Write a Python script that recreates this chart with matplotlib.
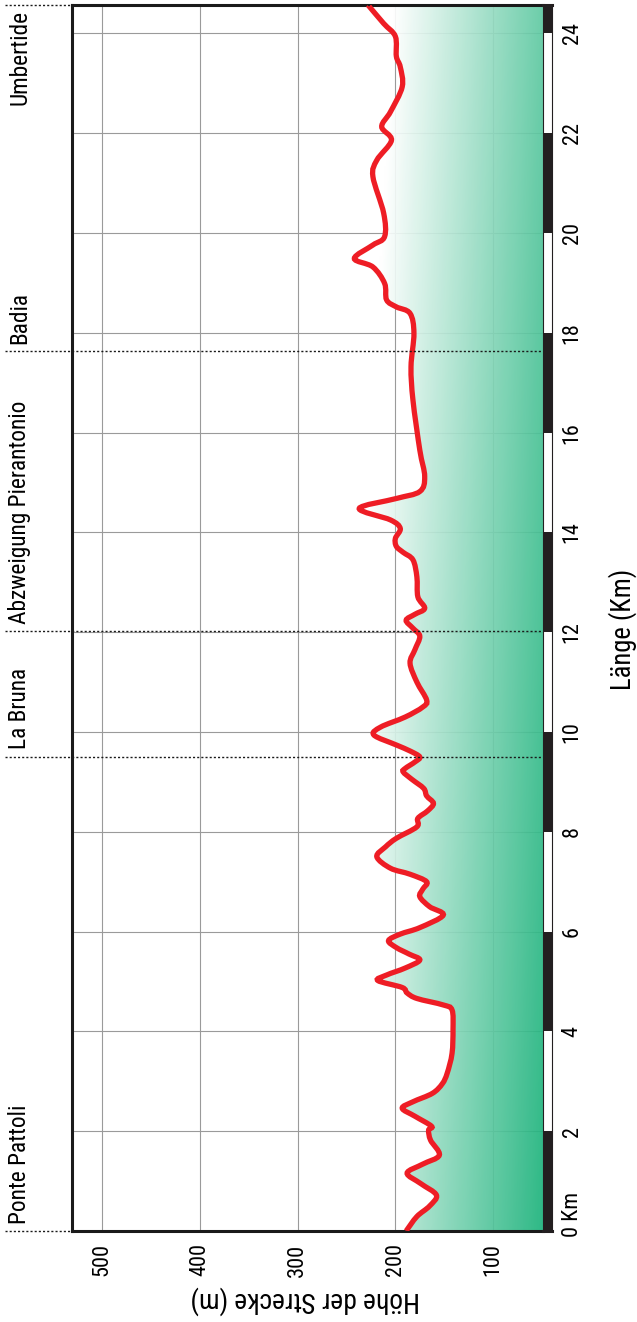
import numpy as np
import matplotlib
matplotlib.use("Agg")
import matplotlib.pyplot as plt
from matplotlib import transforms, font_manager
from matplotlib.patches import Rectangle, PathPatch
from matplotlib.path import Path

# elevation profile: distance (km) / height (m)
km = [0.00, 0.29, 0.50, 0.72, 0.95, 1.16, 1.34, 1.52, 1.82, 2.02, 2.10, 2.30,
      2.46, 2.59, 2.76, 2.95, 3.16, 3.56, 4.04, 4.43, 4.53, 4.66, 4.77, 4.88,
      5.02, 5.13, 5.27, 5.43, 5.55, 5.68, 5.82, 5.95, 6.08, 6.33, 6.50, 6.70,
      6.85, 7.00, 7.15, 7.27, 7.50, 7.70, 7.87, 8.10, 8.27, 8.42, 8.57, 8.72,
      8.87, 9.05, 9.20, 9.27, 9.40, 9.50, 9.62, 9.74, 9.94, 10.10, 10.30, 10.50,
      10.64, 11.00, 11.38, 11.65, 11.92, 12.08, 12.24, 12.36, 12.48, 12.71, 13.11, 13.45,
      13.60, 13.72, 13.88, 14.08, 14.25, 14.48, 14.68, 14.82, 15.12, 15.65, 16.65, 17.32,
      17.99, 18.39, 18.52, 18.66, 18.99, 19.32, 19.49, 19.76, 19.93, 20.40, 21.13, 21.46,
      21.86, 22.13, 22.43, 22.93, 23.33, 23.54, 23.94, 24.20, 24.57]
hoehe = [189, 178, 165, 158, 174, 188, 172, 155, 164, 166, 163, 180,
         193, 182, 162, 152, 147, 142, 141, 142, 151, 178, 188, 193,
         218, 209, 190, 175, 186, 199, 207, 195, 175, 151, 165, 175,
         172, 168, 185, 205, 219, 210, 199, 178, 177, 167, 161, 168,
         171, 183, 192, 190, 180, 175, 185, 199, 222, 215, 190, 172,
         168, 178, 185, 180, 175, 182, 189, 180, 170, 177, 178, 182,
         192, 199, 200, 195, 205, 237, 199, 175, 170, 175, 182, 184,
         181, 185, 199, 209, 211, 223, 242, 223, 211, 212, 223, 219,
         204, 214, 205, 193, 195, 199, 200, 212, 228]

orte = ['Ponte Pattoli', 'La Bruna', 'Abzweigung Pierantonio', 'Badia', 'Umbertide']
orte_km = [0.0, 9.5, 12.02, 17.63, 24.57]

hoehe_ticks = [100, 200, 300, 400, 500]
km_ticks = [2, 4, 6, 8, 10, 12, 14, 16, 18, 20, 22, 24]

xmin, xmax = 531, 48.9
kmax = 24.57


# a narrow sans if one is installed, else Roboto
def pick_font():
    wanted = ['Liberation Sans Narrow', 'Arial Narrow', 'Roboto Condensed',
              'Open Sans Condensed', 'Noto Sans Condensed', 'DejaVu Sans Condensed']
    fonts = font_manager.fontManager.ttflist
    for name in wanted:
        for f in fonts:
            if f.name == name and f.style == 'normal' and f.weight in (400, 'normal', 'regular'):
                return f.fname
    for f in fonts:
        if f.stretch in ('condensed', 'semi-condensed') and f.style == 'normal' \
                and f.weight in (400, 'normal', 'regular') and 'Mono' not in f.name \
                and 'Serif' not in f.name:
            return f.fname
    return None


FONT = pick_font()


def fp(size):
    if FONT:
        return font_manager.FontProperties(fname=FONT, size=size)
    return font_manager.FontProperties(family=['Roboto', 'DejaVu Sans'], size=size)


def smooth_path(xs, ys):
    # Catmull-Rom through the read points, handed to matplotlib as Bezier segments
    p = np.column_stack([xs, ys]).astype(float)
    pp = np.vstack([p[0], p, p[-1]])
    verts = [p[0]]
    codes = [Path.MOVETO]
    for i in range(1, len(pp) - 2):
        c1 = pp[i] + (pp[i + 1] - pp[i - 1]) / 6.0
        c2 = pp[i + 1] - (pp[i + 2] - pp[i]) / 6.0
        verts += [c1, c2, pp[i + 1]]
        codes += [Path.CURVE4] * 3
    return verts, codes


fig = plt.figure(figsize=(6.37, 13.22), dpi=100)
W, H = 637, 1322
renderer = fig.canvas.get_renderer()


def fitted(text, target_px, base=16):
    tmp = fig.text(0.5, 0.5, text, rotation=90, fontproperties=fp(base))
    bb = tmp.get_window_extent(renderer)
    tmp.remove()
    return base * target_px / bb.height


size_orte = fitted('Abzweigung Pierantonio', 224)
size_ticks = 16
size_x = fitted('Höhe der Strecke (m)', 230)
size_y = fitted('Länge (Km)', 122)

ax = fig.add_axes([72 / W, 1 - 1231 / H, (543 - 72) / W, (1231 - 5) / H])
bar = fig.add_axes([543 / W, 1 - 1231 / H, 9 / W, (1231 - 5) / H], sharey=ax)

# grid
for v in hoehe_ticks:
    ax.axvline(v, color='#9a9a9a', lw=0.8, zorder=0)
for k in km_ticks:
    ax.axhline(k, color='#9a9a9a', lw=0.8, zorder=0)

verts, codes = smooth_path(hoehe, km)

# gradient fill under the profile
fverts = verts + [(0, km[-1]), (0, km[0]), verts[0]]
fcodes = codes + [Path.LINETO, Path.LINETO, Path.CLOSEPOLY]
clip = PathPatch(Path(fverts, fcodes), facecolor='none', edgecolor='none')
ax.add_patch(clip)
ny, nx = 300, 200
s = np.linspace(0, 1, nx)[None, :]
u = np.linspace(0, 1, ny)[:, None]
t = np.clip(2.23 * (s - (0.552 + 0.134 * u)), 0, 1)
green = np.array([29, 179, 124]) / 255.0
img = np.ones((ny, nx, 4))
img[..., :3] = 1 - t[..., None] * (1 - green)
img[..., 3] = 0.92
im = ax.imshow(img, extent=[xmin, xmax, 0, kmax], origin='lower',
               aspect='auto', zorder=1, interpolation='bilinear')
im.set_clip_path(clip)

ax.add_patch(PathPatch(Path(verts, codes), facecolor='none', edgecolor='#ee1d25',
                       lw=3.8, zorder=5, capstyle='butt'))

ax.set_xlim(xmin, xmax)
ax.set_ylim(0, kmax)
ax.set_xticks(hoehe_ticks)
ax.set_xticklabels([str(v) for v in hoehe_ticks], rotation=90)
ax.tick_params(axis='x', length=0, pad=9, labelsize=size_ticks)
ax.tick_params(axis='y', left=False, labelleft=False)
for lab in ax.get_xticklabels():
    lab.set_fontproperties(fp(size_ticks))
for side in ['left', 'bottom', 'top']:
    ax.spines[side].set_linewidth(2.2)
    ax.spines[side].set_color('#1a1a1a')
ax.spines['right'].set_visible(False)

# km scale bar
seg = [0, 2, 4, 6, 8, 10, 12, 14, 16, 18, 20, 22, 24]
for i, k0 in enumerate(seg):
    k1 = min(k0 + 2, kmax)
    col = '#231f20' if i % 2 == 0 else 'white'
    bar.add_patch(Rectangle((0, k0), 1, k1 - k0, facecolor=col, edgecolor='none',
                            transform=bar.get_yaxis_transform()))
bar.set_xlim(0, 1)
bar.set_xticks([])
for side in ['left', 'right']:
    bar.spines[side].set_linewidth(0.8)
    bar.spines[side].set_color('#231f20')
for side in ['top', 'bottom']:
    bar.spines[side].set_linewidth(2.2)
    bar.spines[side].set_color('#231f20')
bar.yaxis.tick_right()
bar.set_yticks(km_ticks)
bar.set_yticklabels([str(k) for k in km_ticks], rotation=90, va='center')
bar.tick_params(axis='y', length=0, pad=7, left=False, labelleft=False,
                labelsize=size_ticks)
for lab in bar.get_yticklabels():
    lab.set_fontproperties(fp(size_ticks))
bar.annotate('0 Km', xy=(1, 0), xycoords=('axes fraction', 'data'),
             xytext=(7, -4.5), textcoords='offset points', rotation=90,
             ha='left', va='bottom', fontproperties=fp(size_ticks))

# place names with dotted markers
tr = transforms.blended_transform_factory(fig.transFigure, ax.transData)
for name, k in zip(orte, orte_km):
    ax.plot([5 / W, 543 / W], [k, k], transform=tr, color='#1a1a1a', lw=1.0,
            ls=(0, (1.5, 1.5)), clip_on=False, zorder=6)
    if name == 'Umbertide':
        ax.text(20 / W, k - 0.1, name, transform=tr, rotation=90,
                ha='center', va='top', fontproperties=fp(size_orte))
    else:
        ax.text(20 / W, k + 0.15, name, transform=tr, rotation=90,
                ha='center', va='bottom', fontproperties=fp(size_orte))

fig.text(305 / W, 1 - 1300 / H, 'Höhe der Strecke (m)', rotation=180,
         ha='center', va='center', fontproperties=fp(size_x))
fig.text(623 / W, 1 - 629 / H, 'Länge (Km)', rotation=90, ha='center', va='center',
         fontproperties=fp(size_y))

fig.savefig('out.png', dpi=100)
